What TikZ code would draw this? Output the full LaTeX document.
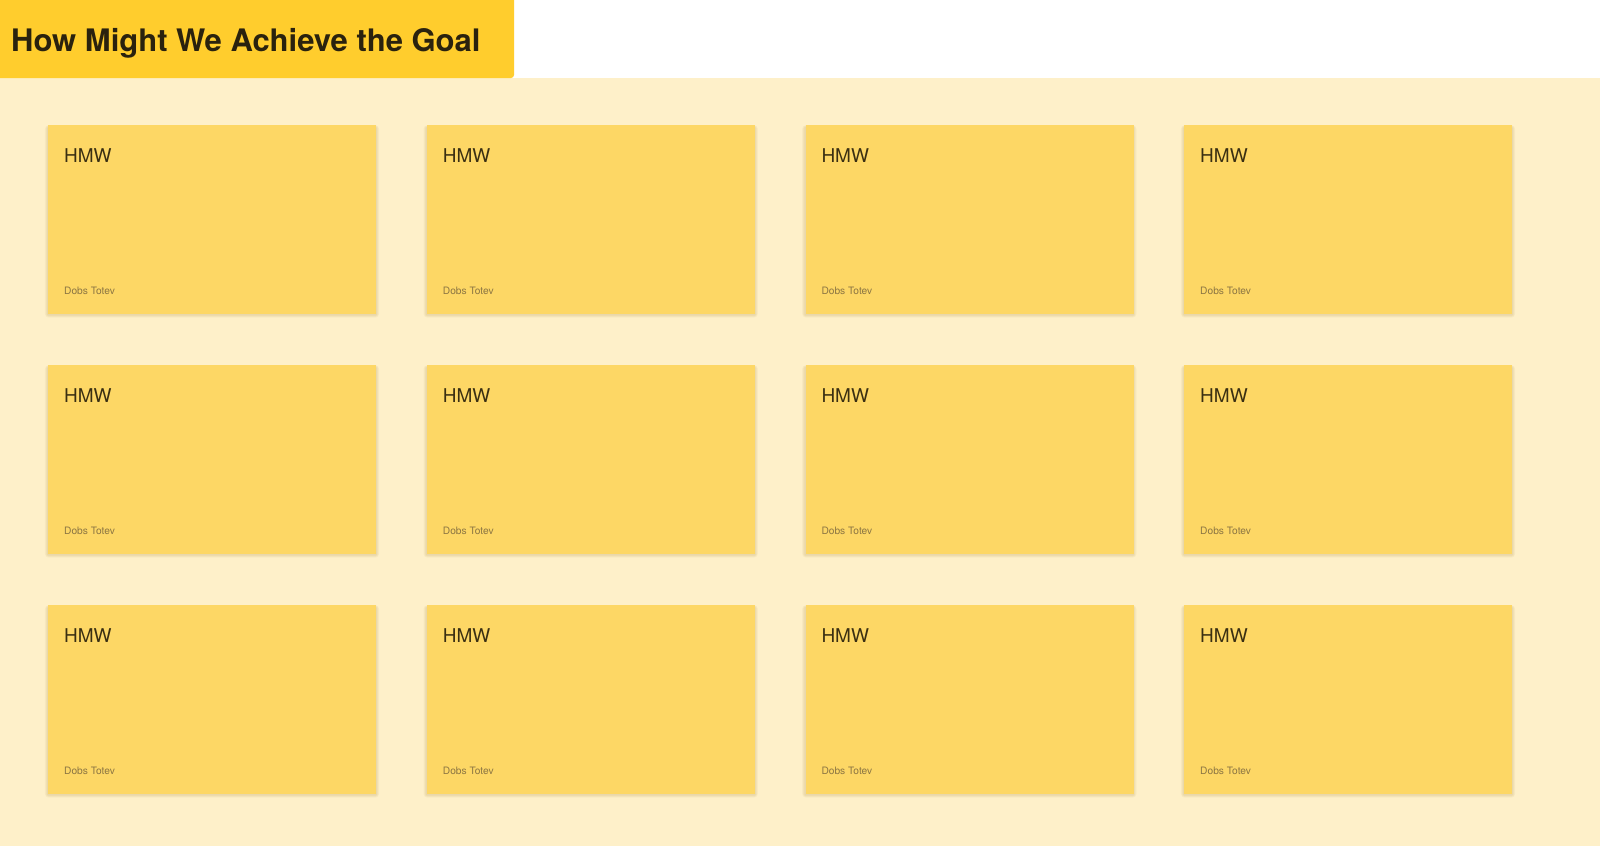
\documentclass[tikz,border=0pt]{standalone}
\usepackage{fontspec}
\setmainfont{TeX Gyre Heros}
\definecolor{titlebg}{HTML}{FFCD2D}
\definecolor{pagebg}{HTML}{FEF0C9}
\definecolor{cardbg}{HTML}{FDD765}
\definecolor{titletext}{HTML}{2A220E}
\definecolor{hmwtext}{HTML}{3A2F12}
\definecolor{authtext}{HTML}{8C7643}
\definecolor{shadowc}{HTML}{8A6A10}
\tikzset{
  card/.style={fill=cardbg, draw=none, minimum width=328pt, minimum height=189pt, anchor=north west, inner sep=0pt},
  shadowlayer/.style={fill=shadowc, fill opacity=0.045, draw=none},
  hmw/.style={anchor=base west, inner sep=0pt, text=hmwtext, font=\fontsize{19}{21}\selectfont},
  auth/.style={anchor=base west, inner sep=0pt, text=authtext, font=\fontsize{10.2}{12}\selectfont},
}
\begin{document}
\begin{tikzpicture}[x=1pt,y=-1pt]
\useasboundingbox (0,0) rectangle (1600,846);
\fill[white] (0,0) rectangle (1600,846);
\fill[pagebg] (0,78) rectangle (1600,846);
\fill[titlebg, rounded corners=3pt] (-5,-5) rectangle (514,78);
\fill[titlebg] (-5,-5) rectangle (480,40);
\node[anchor=base west, inner sep=0pt, text=titletext, font=\fontsize{31}{36}\selectfont\bfseries] (title) at (11,51.5) {How Might We Achieve the Goal};
\foreach \c/\x in {1/48,2/426.7,3/805.3,4/1184}{
  \foreach \r/\y in {1/124.5,2/364.5,3/604.5}{
    \foreach \s in {1,2,3,4}{
      \fill[shadowlayer, rounded corners=\s pt] (\x-\s*0.8,\y+3-\s*0.6) rectangle (\x+328+\s*0.8,\y+189+1+\s*0.8);
    }
    \node[card] (card\r\c) at (\x,\y) {};
    \node[hmw] (hmw\r\c) at ([xshift=16pt,yshift=-37.5pt]card\r\c.north west) {HMW};
    \node[auth] (auth\r\c) at ([xshift=16pt,yshift=19pt]card\r\c.south west) {Dobs Totev};
  }
}
\end{tikzpicture}
\end{document}
